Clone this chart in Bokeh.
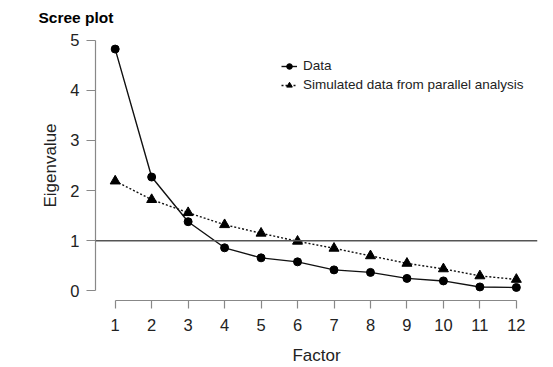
from bokeh.plotting import figure
from bokeh.models import Span, Legend, LegendItem, Range1d, FixedTicker
from bokeh.embed import file_html
from bokeh.resources import INLINE

factors = [1, 2, 3, 4, 5, 6, 7, 8, 9, 10, 11, 12]
data_eig = [4.82, 2.27, 1.38, 0.86, 0.66, 0.58, 0.42, 0.37, 0.25, 0.20, 0.08, 0.07]
sim_eig = [2.19, 1.82, 1.56, 1.32, 1.15, 0.99, 0.85, 0.70, 0.55, 0.44, 0.30, 0.23]
y_ticks = [0, 1, 2, 3, 4, 5]
x_ticks = factors

FONT = "Liberation Sans"
TXT = "#222222"
AX = "#888888"

p = figure(width=545, height=367, output_backend="svg", toolbar_location=None,
           x_range=Range1d(0.46, 12.58), y_range=Range1d(-0.19, 5.19),
           min_border_left=95, min_border_right=8, min_border_bottom=67, min_border_top=30)
p.title.text = "Scree plot"
p.title.text_font = FONT
p.title.text_font_size = "15.5px"
p.title.text_font_style = "bold"
p.title.text_color = "#000000"
p.title.offset = -57
p.outline_line_color = None
p.xgrid.visible = False
p.ygrid.visible = False

for ax in (p.xaxis[0], p.yaxis[0]):
    ax.axis_line_color = AX
    ax.axis_line_width = 1.2
    ax.major_tick_line_color = AX
    ax.major_tick_line_width = 1.2
    ax.minor_tick_line_color = None
    ax.major_tick_in = 0
    ax.major_label_text_font = FONT
    ax.major_label_text_color = TXT
    ax.axis_label_text_font = FONT
    ax.axis_label_text_color = TXT
    ax.axis_label_text_font_style = "normal"

p.xaxis.ticker = FixedTicker(ticks=x_ticks)
p.xaxis.bounds = (1, 12)
p.xaxis.major_tick_out = 8
p.xaxis.major_label_standoff = 10
p.xaxis.major_label_text_font_size = "16.5px"
p.xaxis.axis_label = "Factor"
p.xaxis.axis_label_text_font_size = "17px"
p.xaxis.axis_label_standoff = 12

p.yaxis.ticker = FixedTicker(ticks=y_ticks)
p.yaxis.bounds = (0, 5)
p.yaxis.major_tick_out = 9
p.yaxis.major_label_standoff = 7
p.yaxis.major_label_orientation = "horizontal"
p.yaxis.major_label_text_font_size = "16.5px"
p.yaxis.axis_label = "Eigenvalue"
p.yaxis.axis_label_text_font_size = "17px"
p.yaxis.axis_label_standoff = 7

p.add_layout(Span(location=1, dimension="width", line_color="#555555", line_width=1.4))

l1 = p.line(factors, data_eig, line_color="#111111", line_width=1.4)
c1 = p.scatter(factors, data_eig, marker="circle", size=8, fill_color="#000000", line_color="#000000")
l2 = p.line(factors, sim_eig, line_color="#111111", line_width=1.4, line_dash="2 2")
c2 = p.scatter(factors, sim_eig, marker="triangle", size=10, fill_color="#000000", line_color="#000000")

legend = Legend(items=[LegendItem(label="Data", renderers=[l1, c1]),
                       LegendItem(label="Simulated data from parallel analysis", renderers=[l2, c2])],
                location=(186, 208), background_fill_alpha=0, border_line_color=None,
                label_text_font=FONT, label_text_font_size="13.5px", label_text_color=TXT,
                glyph_width=16, glyph_height=14, label_standoff=6, spacing=4, padding=2,
                label_height=14)
p.add_layout(legend)

open("out.html", "w").write(file_html(p, INLINE))
